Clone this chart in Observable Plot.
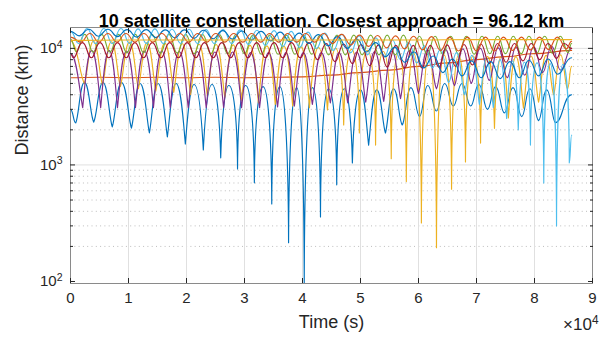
<!DOCTYPE html>
<html><head><meta charset="utf-8">
<script src="https://cdn.jsdelivr.net/npm/d3@7"></script>
<script src="https://cdn.jsdelivr.net/npm/@observablehq/plot@0.6"></script>
<style>
html,body{margin:0;padding:0;background:#fff;}
#chart svg{display:block;}
</style></head><body><div id="chart"></div>
<script>
const titleText = "10 satellite constellation. Closest approach = 96.12 km";
const xLabel = "Time (s)";
const yLabel = "Distance (km)";
const xExponent = "×10^4";
const xTickValues = [0, 10000, 20000, 30000, 40000, 50000, 60000, 70000, 80000, 90000];
const xTickLabels = ["0", "1", "2", "3", "4", "5", "6", "7", "8", "9"];
const yMajorTicks = [100, 1000, 10000];
const yMajorLabels = ["10^2", "10^3", "10^4"];
const yMinorTicks = [200, 300, 400, 500, 600, 700, 800, 900, 2000, 3000, 4000, 5000, 6000, 7000, 8000, 9000];
const seriesNames = ["sat 1", "sat 2", "sat 3", "sat 4", "sat 5", "sat 6", "sat 7", "sat 8", "sat 9", "sat 10"];
const seriesColors = ["#0072BD", "#D95319", "#EDB120", "#7E2F8E", "#77AC30", "#4DBEEE", "#A2142F", "#0072BD", "#D95319", "#EDB120"];

// times in thousands of seconds, distances in km (minima / maxima)
const s1LowT = [0.9,4.0,7.2,10.5,13.6,16.7,19.8,22.9,25.9,28.8,31.7,34.7,37.6,40.3,43.1,45.9,48.6,51.4,54.3,57.2,60.2,63.1,66.0,69.0,71.9,74.8,77.8,80.7,83.6];
const s1LowV = [2290,2330,2120,2070,1880,1740,1510,1345,1150,925,702,463,215,96.12,358,675,1040,1480,1880,2200,2600,2900,3200,3200,3000,2800,2600,2400,2300];
const s1HighT = [0,2.4,5.6,8.8,12.0,15.1,18.2,21.3,24.4,27.3,30.2,33.2,36.1,39.0,41.7,44.5,47.2,50.0,52.8,55.7,58.7,61.6,64.5,67.5,70.4,73.3,76.3,79.2,82.1,86.4];
const s1HighV = [3000,5100,5100,5100,5000,5000,5000,4900,4900,4800,4800,4700,4700,4600,4600,4500,4500,4400,4400,4500,4600,4800,5000,5000,4900,4700,4600,4500,4400,4000];

const s2T = [0,5,10,15,20,25,30,35,40,45,50,55,60,65,70,75,80,86.4];
const s2V = [5600,5650,5600,5650,5600,5650,5600,5650,5700,5900,6200,6500,7000,7500,8000,8500,9000,9600];

const s3LowT = [2.4,5.5,8.6,11.7,14.7,17.8,20.7,23.6,26.6,29.5,32.4,35.3,38.3,41.2,44.3,47.1,49.8,52.6,55.3,57.9,60.5,63.1,65.7,68.1,70.7,73.1,75.5,78.1,80.7,83.3,85.7];
const s3LowV = [5000,4900,4700,4500,4300,4200,4000,3900,3800,3600,3400,3300,3200,3100,2960,2200,1880,1480,1130,720,318,195,620,1060,1540,2060,2530,3070,3450,4000,4500];
const s3HighT = [0,3.95,7.05,10.15,13.2,16.25,19.25,22.15,25.1,28.05,30.95,33.85,36.8,39.75,42.75,45.7,48.45,51.2,53.95,56.6,59.2,61.8,64.4,66.9,69.4,71.9,74.3,76.8,79.4,82.0,84.5,86.4];
const s3HighV = [11500,11500,11400,11300,11200,11100,11000,10900,10800,10700,10600,10500,10400,10300,10200,10000,9800,9600,9400,9200,9000,8900,8800,8700,8600,8500,8500,8500,8600,8700,8800,7000];

const s4LowT = [2.1,5.2,8.1,11.2,14.3,17.2,20.3,23.4,26.4,29.5,32.6,35.7,38.6,41.7,44.8,47.8,50.9,54.0,56.9,60.0,63.1,66.2,69.1,72.2,75.3,78.3,81.4,84.5];
const s4LowV = [3100,3100,3100,3100,3100,3100,3100,3100,3100,3100,3100,3150,3200,3300,3400,3400,3450,3500,3700,4100,4500,4800,5000,5300,5600,5900,6200,6500];
const s4HighT = [0,3.65,6.65,9.65,12.75,15.75,18.75,21.85,24.9,27.95,31.05,34.15,37.15,40.15,43.25,46.3,49.35,52.45,55.45,58.45,61.55,64.65,67.65,70.65,73.75,76.8,79.85,82.95,86.4];
const s4HighV = [9000,9600,9600,9500,9500,9500,9400,9400,9300,9300,9200,9200,9200,9200,9200,9200,9300,9400,9500,9600,9700,9800,9900,10000,10100,10200,10300,10400,10000];

const s5LowT = [1.0,3.9,6.8,9.7,12.6,15.5,18.4,21.3,24.2,27.1,30.0,32.9,35.8,38.7,41.6,44.5,47.4,50.3,53.2,56.0,58.8,61.5,64.2,66.9,69.6,72.3,75.0,77.7,80.4,83.1,85.8];
const s5LowV = [9400,9300,9300,9200,9200,9100,9100,9000,9000,9000,9000,8900,8900,8900,8900,8800,8800,8800,8800,8800,8800,8800,8900,8900,8900,9000,9000,9000,9100,9100,9200];
const s5HighT = [0,2.45,5.35,8.25,11.15,14.05,16.95,19.85,22.75,25.65,28.55,31.45,34.35,37.25,40.15,43.05,45.95,48.85,51.75,54.6,57.4,60.15,62.85,65.55,68.25,70.95,73.65,76.35,79.05,81.75,84.45,86.4];
const s5HighV = [12000,13200,13200,13200,13200,13200,13200,13200,13200,13200,13200,13000,13000,13000,13000,13000,13000,13000,13000,13000,13000,12700,12700,12700,12700,12700,12700,12700,12700,12700,12700,11000];

const s6LowT = [1.4,4.3,7.2,10.2,13.1,16.0,19.0,21.9,24.8,27.8,30.7,33.6,36.6,39.5,42.4,45.3,48.3,51.2,54.1,56.9,59.7,62.4,65.2,67.9,70.5,72.9,75.2,77.2,79.3,81.6,83.8,86.0];
const s6LowV = [11000,11000,11000,11000,11000,11000,11000,11000,11000,11000,10800,10600,10400,10200,10000,9600,9200,8800,8400,8000,7500,6800,5100,4000,3300,3100,2500,2000,1480,700,300,1040];
const s6HighT = [0,2.85,5.75,8.7,11.65,14.55,17.5,20.45,23.35,26.3,29.25,32.15,35.1,38.05,40.95,43.85,46.8,49.75,52.65,55.5,58.3,61.05,63.8,66.55,69.2,71.7,74.05,76.2,78.25,80.45,82.7,84.9,86.4];
const s6HighV = [14000,14800,14800,14800,14700,14700,14600,14600,14500,14500,14400,14300,14200,14000,13800,13500,13200,12800,12300,11800,11200,10500,9800,9200,8700,8300,8000,7800,7600,7500,7400,7300,1800];

const s7LowT = [0.5,3.6,6.6,9.6,12.6,15.6,18.6,21.6,24.6,27.6,30.6,33.6,36.6,39.6,42.6,45.6,48.6,51.6,54.6,57.6,60.6,63.5,66.4,69.3,72.2,75.1,78.0,80.9,83.8];
const s7LowV = [8300,8300,8300,8300,8300,8300,8300,8300,8300,8300,8300,8300,8300,8300,8000,7700,7400,7100,6900,6800,6800,6900,7000,7200,7400,7600,7800,8000,8200];
const s7HighT = [0,2.05,5.1,8.1,11.1,14.1,17.1,20.1,23.1,26.1,29.1,32.1,35.1,38.1,41.1,44.1,47.1,50.1,53.1,56.1,59.1,62.05,64.95,67.85,70.75,73.65,76.55,79.45,82.35,85.1,86.4];
const s7HighV = [9000,11200,11200,11200,11200,11200,11200,11200,11200,11200,11200,11200,11200,11200,11200,11000,10900,10800,10700,10600,10600,10600,10700,10800,10900,11000,11000,11000,11000,11000,10000];

const s8LowT = [1.5,4.8,8.1,11.4,14.7,18.0,21.3,24.6,27.9,31.2,34.5,37.8,41.1,44.4,47.7,51.0,54.3,57.6,60.9,64.2,67.5,70.8,74.1,77.4,80.7,84.0];
const s8LowV = [12800,12700,12600,12500,12400,12300,12200,12100,12000,11800,11600,11400,11000,10500,10000,9300,8500,7600,6800,6200,5800,5600,5500,5600,5800,6000];
const s8HighT = [0,3.15,6.45,9.75,13.05,16.35,19.65,22.95,26.25,29.55,32.85,36.15,39.45,42.75,46.05,49.35,52.65,55.95,59.25,62.55,65.85,69.15,72.45,75.75,79.05,82.35,86.4];
const s8HighV = [14000,14600,14600,14500,14500,14400,14400,14300,14200,14100,14000,13800,13500,13100,12600,12000,11200,10200,9300,8600,8100,7800,7700,7700,7900,8100,8300];

const s9LowT = [1.8,4.9,8.0,11.1,14.2,17.3,20.4,23.5,26.6,29.7,32.8,35.9,39.0,42.1,45.2,48.3,51.4,54.5,57.6,60.7,63.8,66.9,70.0,73.1,76.2,79.3,82.4,85.5];
const s9LowV = [11300,11300,11300,11300,11300,11300,11300,11300,11300,11300,11300,11300,11300,11300,11000,10700,10400,10100,9900,9700,9600,9500,9500,9500,9600,9700,9800,9900];
const s9HighT = [0,3.35,6.45,9.55,12.65,15.75,18.85,21.95,25.05,28.15,31.25,34.35,37.45,40.55,43.65,46.75,49.85,52.95,56.05,59.15,62.25,65.35,68.45,71.55,74.65,77.75,80.85,83.95,86.4];
const s9HighV = [12500,13400,13400,13400,13400,13400,13400,13400,13400,13400,13400,13400,13400,13400,13400,13200,13000,12900,12800,12700,12600,12500,12500,12500,12500,12500,12500,12500,11500];

const s10T = [0,10,20,30,40,50,60,70,80,86.4];
const s10V = [11700,11800,11800,11800,11800,11800,11800,11900,11900,11900];

function buildSeries(name, lowT, lowV, highT, highV) {
  const pts = [];
  lowT.forEach((t, i) => pts.push({name, time: t * 1000, dist: lowV[i]}));
  highT.forEach((t, i) => pts.push({name, time: t * 1000, dist: highV[i]}));
  return pts.sort((a, b) => a.time - b.time);
}
const data = [
  ...buildSeries(seriesNames[0], s1LowT, s1LowV, s1HighT, s1HighV),
  ...buildSeries(seriesNames[1], s2T, s2V, [], []),
  ...buildSeries(seriesNames[2], s3LowT, s3LowV, s3HighT, s3HighV),
  ...buildSeries(seriesNames[3], s4LowT, s4LowV, s4HighT, s4HighV),
  ...buildSeries(seriesNames[4], s5LowT, s5LowV, s5HighT, s5HighV),
  ...buildSeries(seriesNames[5], s6LowT, s6LowV, s6HighT, s6HighV),
  ...buildSeries(seriesNames[6], s7LowT, s7LowV, s7HighT, s7HighV),
  ...buildSeries(seriesNames[7], s8LowT, s8LowV, s8HighT, s8HighV),
  ...buildSeries(seriesNames[8], s9LowT, s9LowV, s9HighT, s9HighV),
  ...buildSeries(seriesNames[9], s10T, s10V, [], [])
];

// curve: rounded maxima, sharp cusps at deep minima
function CuspCurve(context) { this._context = context; }
CuspCurve.prototype = {
  areaStart() { this._line = 0; },
  areaEnd() { this._line = NaN; },
  lineStart() { this._x = []; this._y = []; },
  point(x, y) { this._x.push(+x); this._y.push(+y); },
  lineEnd() {
    const X = this._x, Y = this._y, n = X.length, c = this._context;
    if (!n) return;
    c.moveTo(X[0], Y[0]);
    for (let i = 1; i < n; ++i) {
      const x0 = X[i - 1], y0 = Y[i - 1], x1 = X[i], y1 = Y[i];
      const dx = x1 - x0, dy = Math.abs(y1 - y0);
      const s = Math.max(0, Math.min(1, (dy - 28) / 55));
      const h = 0.45 * (1 - s) + 0.04 * s;
      const v = 0.65 * s;
      if (y1 > y0) c.bezierCurveTo(x0 + dx * 0.5, y0, x1 - dx * h, y1 - dy * v, x1, y1);
      else c.bezierCurveTo(x0 + dx * h, y0 - dy * v, x1 - dx * 0.5, y1, x1, y1);
    }
  }
};
const cusp = (context) => new CuspCurve(context);

const font = "'Liberation Sans', Arial, Helvetica, sans-serif";
const ink = "#262626";
const fmtX = d => xTickLabels[xTickValues.indexOf(d)];
const fmtY = d => yMajorLabels[yMajorTicks.indexOf(d)];

const chart = Plot.plot({
  width: 603,
  height: 341,
  marginLeft: 70,
  marginRight: 11,
  marginTop: 27,
  marginBottom: 58,
  style: {fontFamily: font, background: "#fff", color: ink, overflow: "visible"},
  x: {type: "linear", domain: [0, 90000], axis: null},
  y: {type: "log", domain: [96.12, 15100], axis: null},
  color: {type: "ordinal", domain: seriesNames, range: seriesColors},
  marks: [
    Plot.gridY(yMinorTicks, {stroke: "#bdbdbd", strokeOpacity: 1, strokeDasharray: "1,3.3", strokeWidth: 1}),
    Plot.gridX(xTickValues.slice(1, -1), {stroke: "#e0e0e0", strokeOpacity: 1}),
    Plot.gridY(yMajorTicks.slice(1), {stroke: "#e0e0e0", strokeOpacity: 1}),
    Plot.line(data, {x: "time", y: "dist", z: "name", stroke: "name", strokeWidth: 1.15, curve: cusp, clip: true}),
    Plot.frame({stroke: "#8a8a8a"}),
    Plot.axisX(xTickValues, {anchor: "bottom", tickSize: 5, dy: -5, tickFormat: () => "", label: null, stroke: ink}),
    Plot.axisX(xTickValues, {anchor: "top", tickSize: 5, dy: 5, tickFormat: () => "", label: null, stroke: ink}),
    Plot.axisY(yMajorTicks, {anchor: "left", tickSize: 5, dx: 5, tickFormat: () => "", label: null, stroke: ink}),
    Plot.axisY(yMajorTicks, {anchor: "right", tickSize: 5, dx: -5, tickFormat: () => "", label: null, stroke: ink}),
    Plot.axisY(yMinorTicks, {anchor: "left", tickSize: 3, dx: 3, tickFormat: () => "", label: null, stroke: ink}),
    Plot.axisY(yMinorTicks, {anchor: "right", tickSize: 3, dx: -3, tickFormat: () => "", label: null, stroke: ink}),
    Plot.axisX(xTickValues, {anchor: "bottom", tickSize: 0, tickPadding: 9, tickFormat: fmtX, label: null, fontSize: 15, fill: ink}),
    Plot.axisY(yMajorTicks, {anchor: "left", tickSize: 0, tickPadding: 8, tickFormat: fmtY, label: null, fontSize: 15, fill: ink}),
    Plot.text([yLabel], {frameAnchor: "left", dx: -48, rotate: -90, fontSize: 18, fill: ink}),
    Plot.text([xLabel], {frameAnchor: "bottom", dy: 44, fontSize: 18, fill: ink}),
    Plot.text([xExponent], {frameAnchor: "bottom-right", dx: 6, dy: 46, textAnchor: "end", fontSize: 17, fill: ink}),
    Plot.text([titleText], {frameAnchor: "top", dy: -13, fontWeight: "bold", fontSize: 18, fill: "#000"})
  ]
});

// render "10^k" as 10 with a raised exponent
chart.querySelectorAll("text").forEach(t => {
  const s = t.textContent;
  if (s.includes("^") && t.children.length === 0) {
    const [base, exp] = s.split("^");
    t.textContent = base;
    const sup = document.createElementNS("http://www.w3.org/2000/svg", "tspan");
    sup.setAttribute("dy", "-0.5em");
    sup.setAttribute("font-size", "0.7em");
    sup.textContent = exp;
    t.appendChild(sup);
  }
});
document.getElementById("chart").appendChild(chart);
</script>
</body></html>
